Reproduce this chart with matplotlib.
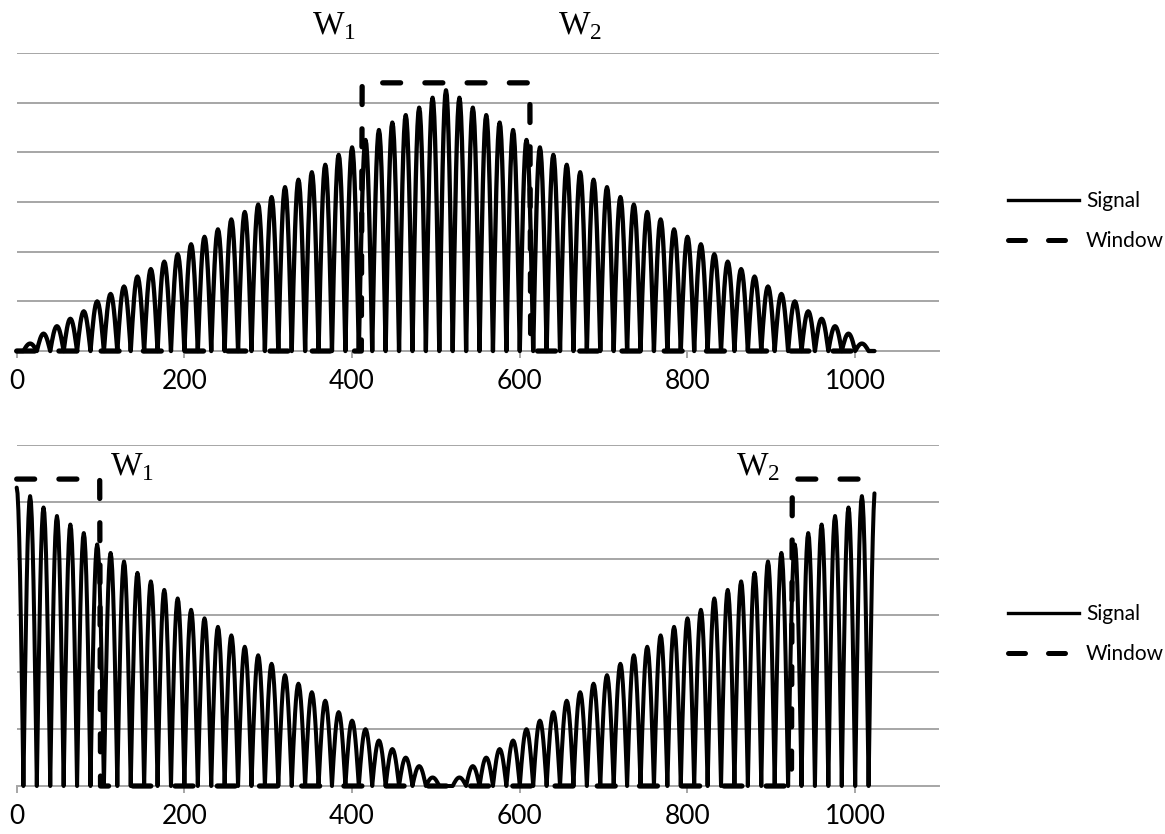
import numpy as np
import matplotlib
matplotlib.use("Agg")
import matplotlib.pyplot as plt
from matplotlib.lines import Line2D

plt.rcParams['mathtext.fontset'] = 'custom'
plt.rcParams['mathtext.rm'] = 'Liberation Serif'

# samples and lobe period
n_samples = 1024
lobe_period = 16

# peak height of every lobe (lobe k is centred on n = 16*k)
top_peaks = [0.00, 0.03, 0.07, 0.10, 0.13, 0.16, 0.20, 0.23, 0.26, 0.30, 0.33,
             0.36, 0.39, 0.43, 0.46, 0.49, 0.53, 0.56, 0.59, 0.62, 0.66, 0.69,
             0.72, 0.75, 0.79, 0.82, 0.85, 0.89, 0.92, 0.95, 0.98, 1.02, 1.05,
             1.02, 0.98, 0.95, 0.92, 0.89, 0.85, 0.82, 0.79, 0.75, 0.72, 0.69,
             0.66, 0.62, 0.59, 0.56, 0.53, 0.49, 0.46, 0.43, 0.39, 0.36, 0.33,
             0.30, 0.26, 0.23, 0.20, 0.16, 0.13, 0.10, 0.07, 0.03, 0.00]
bottom_peaks = [1.05, 1.02, 0.98, 0.95, 0.92, 0.89, 0.85, 0.82, 0.79, 0.75, 0.72,
                0.69, 0.66, 0.62, 0.59, 0.56, 0.53, 0.49, 0.46, 0.43, 0.39, 0.36,
                0.33, 0.30, 0.26, 0.23, 0.20, 0.16, 0.13, 0.10, 0.07, 0.03, 0.00,
                0.03, 0.07, 0.10, 0.13, 0.16, 0.20, 0.23, 0.26, 0.30, 0.33, 0.36,
                0.39, 0.43, 0.46, 0.49, 0.53, 0.56, 0.59, 0.62, 0.66, 0.69, 0.72,
                0.75, 0.79, 0.82, 0.85, 0.89, 0.92, 0.95, 0.98, 1.02, 1.05]

# window: level and edges (W1, W2)
window_level = 1.08
top_window = (412, 613)       # window is "on" between W1 and W2
bottom_window = (100, 925)    # window is "off" between W1 and W2

x_ticks = [0, 200, 400, 600, 800, 1000]
y_grid = [0, 0.2, 0.4, 0.6, 0.8, 1.0, 1.2]

top_labels = [("W", "1", 352), ("W", "2", 646)]
bottom_labels = [("W", "1", 111), ("W", "2", 858)]


def make_signal(peaks):
    n = np.arange(n_samples)
    k = np.rint(n / lobe_period).astype(int)
    amp = np.array(peaks)[k]
    return n, amp * np.abs(np.cos(np.pi * n / lobe_period))


def make_window(edges, inside):
    n = np.arange(n_samples)
    on = (n >= edges[0]) & (n < edges[1])
    if not inside:
        on = ~on
    return n, np.where(on, window_level, 0.0)


grid_color = '#a6a6a6'
tick_font = 'Lato'
win_dash = (3.4, 4.6)

fig = plt.figure(figsize=(11.65, 8.34), dpi=100)
ax_top = fig.add_axes([0.01433, 0.5791, 0.7917, 0.3573])
ax_bot = fig.add_axes([0.01433, 0.05755, 0.7917, 0.4089])

panels = [
    (ax_top, top_peaks, top_window, True, top_labels, 1.275, 0.735, 3.1),
    (ax_bot, bottom_peaks, bottom_window, False, bottom_labels, 1.093, 0.2398, 2.9),
]

for ax, peaks, edges, inside, labels, label_y, leg_y, sig_lw in panels:
    xs, ys = make_signal(peaks)
    xw, yw = make_window(edges, inside)
    ax.plot(xs, ys, color='black', lw=sig_lw, solid_joinstyle='round',
            solid_capstyle='round', zorder=3, clip_on=False)
    wl, = ax.plot(xw, yw, color='black', lw=3.8, dash_capstyle='round',
                  zorder=4, clip_on=False)
    wl.set_dashes(win_dash)

    ax.set_xlim(0, 1100)
    ax.set_ylim(0, 1.2)
    for g in y_grid[1:]:
        ax.axhline(g, color=grid_color, lw=1.4, zorder=1)
    for s in ['top', 'right', 'left']:
        ax.spines[s].set_visible(False)
    ax.spines['bottom'].set_color(grid_color)
    ax.spines['bottom'].set_linewidth(1.4)
    ax.spines['bottom'].set_zorder(1)
    ax.set_yticks([])
    ax.set_xticks(x_ticks)
    ax.set_xticklabels([str(t) for t in x_ticks], fontsize=19, family=tick_font)
    ax.tick_params(axis='x', length=5, width=1.4, color=grid_color, pad=8)

    for big, sub, lx in labels:
        ax.text(lx, label_y, r'$\mathrm{%s}_{%s}$' % (big, sub), fontsize=24,
                ha='left', va='baseline', clip_on=False)

    handles = [Line2D([0], [0], color='black', lw=2.4),
               Line2D([0], [0], color='black', lw=3.6, dash_capstyle='round',
                      dashes=win_dash)]
    fig.legend(handles, ['Signal', 'Window'], loc='center left',
               bbox_to_anchor=(0.865, leg_y), frameon=False, borderpad=0,
               borderaxespad=0, handlelength=3.4, handletextpad=0.35,
               labelspacing=0.95, prop={'family': tick_font, 'size': 15})

fig.savefig('out.png', dpi=100)
